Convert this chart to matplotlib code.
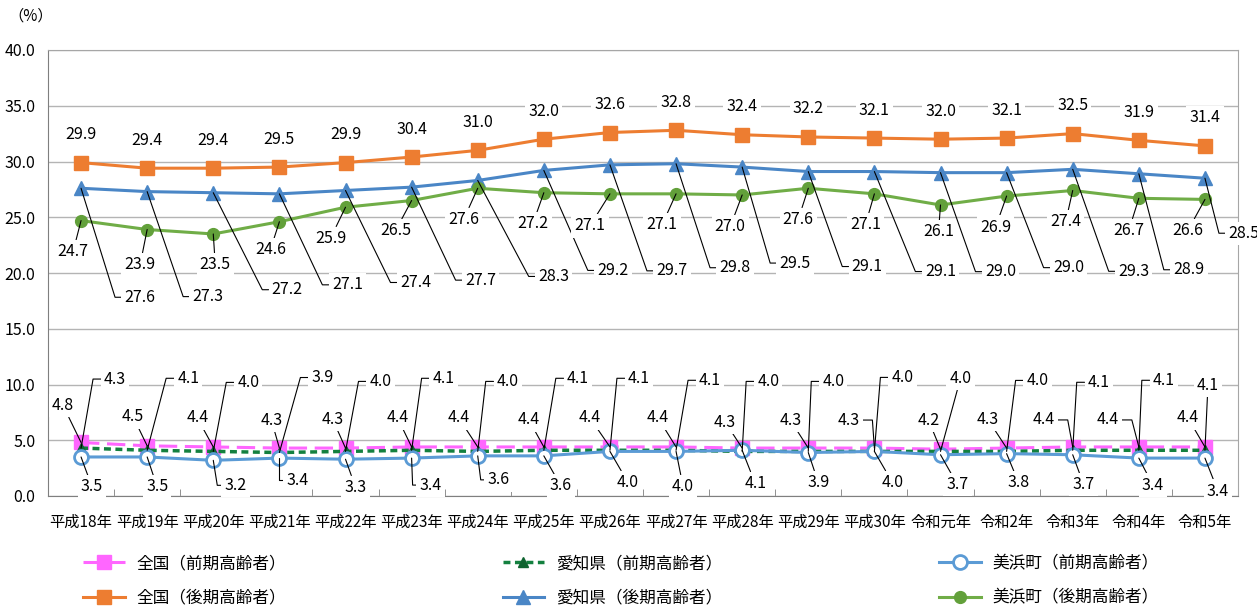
import math
import numpy as np
import matplotlib.pyplot as plt

plt.rcParams['font.family'] = ['Liberation Sans Narrow', 'Noto Sans CJK JP', 'DejaVu Sans']

years = ['平成18年', '平成19年', '平成20年', '平成21年', '平成22年', '平成23年',
         '平成24年', '平成25年', '平成26年', '平成27年', '平成28年', '平成29年',
         '平成30年', '令和元年', '令和2年', '令和3年', '令和4年', '令和5年']

zenkoku_zenki = [4.8, 4.5, 4.4, 4.3, 4.3, 4.4, 4.4, 4.4, 4.4, 4.4, 4.3, 4.3, 4.3, 4.2, 4.3, 4.4, 4.4, 4.4]
aichi_zenki = [4.3, 4.1, 4.0, 3.9, 4.0, 4.1, 4.0, 4.1, 4.1, 4.1, 4.0, 4.0, 4.0, 4.0, 4.0, 4.1, 4.1, 4.1]
mihama_zenki = [3.5, 3.5, 3.2, 3.4, 3.3, 3.4, 3.6, 3.6, 4.0, 4.0, 4.1, 3.9, 4.0, 3.7, 3.8, 3.7, 3.4, 3.4]
zenkoku_kouki = [29.9, 29.4, 29.4, 29.5, 29.9, 30.4, 31.0, 32.0, 32.6, 32.8, 32.4, 32.2, 32.1, 32.0, 32.1, 32.5, 31.9, 31.4]
aichi_kouki = [27.6, 27.3, 27.2, 27.1, 27.4, 27.7, 28.3, 29.2, 29.7, 29.8, 29.5, 29.1, 29.1, 29.0, 29.0, 29.3, 28.9, 28.5]
mihama_kouki = [24.7, 23.9, 23.5, 24.6, 25.9, 26.5, 27.6, 27.2, 27.1, 27.1, 27.0, 27.6, 27.1, 26.1, 26.9, 27.4, 26.7, 26.6]

# label offsets (pixels from the point, y up) as placed in the original chart
off_zenkoku_zenki = [(-18, 37), (-14, 29), (-16, 29), (-8, 28), (-13, 29), (-14, 29), (-19, 29), (-15, 27), (-20, 29),
                     (-18, 29), (-17, 26), (-18, 28), (-26, 28), (-12, 29), (-19, 29), (-29, 27), (-31, 27), (-17, 29)]
off_aichi_zenki = [(34, 69), (41, 72), (35, 69), (43, 75), (35, 70), (32, 72), (30, 70), (34, 72), (29, 72),
                   (34, 70), (26, 70), (25, 70), (28, 74), (20, 73), (31, 71), (26, 68), (25, 70), (3, 65)]
off_mihama_zenki = [(11, -30), (10, -30), (22, -25), (18, -22), (10, -28), (19, -27), (21, -24), (17, -30), (18, -31),
                    (7, -35), (13, -33), (10, -30), (18, -31), (17, -30), (12, -29), (11, -30), (14, -27), (13, -33)]
off_aichi_kouki = [(59, -109), (61, -105), (74, -97), (68, -91), (70, -92), (69, -93), (76, -96), (69, -100), (62, -106),
                   (59, -104), (53, -96), (59, -95), (66, -100), (60, -99), (62, -95), (61, -102), (50, -96), (39, -55)]
off_mihama_kouki = [(-8, -31), (-7, -35), (2, -31), (-9, -28), (-15, -31), (-16, -30), (-14, -31), (-11, -31), (-20, -32),
                    (-14, -31), (-12, -32), (-10, -31), (-9, -31), (-2, -27), (-11, -31), (-7, -31), (-10, -32), (-17, -31)]
elbow_zenkoku_zenki = [12, 15, 16]
elbow_aichi_zenki = [i for i in range(18) if i not in (13, 17)]
elbow_mihama_zenki = [2, 3, 5, 6]

fig = plt.figure(figsize=(12.57, 6.08), dpi=100)
ax = fig.add_axes([48/1257, 112/608, 1190/1257, 446/608])
x = np.arange(len(years))

ax.plot(x, zenkoku_zenki, color='#FF66FF', lw=2.2, dashes=(6, 2.5), marker='s', ms=9.5,
        mfc='#FF66FF', mec='#FF66FF', label='全国（前期高齢者）')
ax.plot(x, aichi_zenki, color='#13803F', lw=2.5, dashes=(2, 1.3), marker='^', ms=6.5,
        mfc='#0F6430', mec='#0F6430', label='愛知県（前期高齢者）')
ax.plot(x, mihama_zenki, color='#5B9BD5', lw=2.2, marker='o', ms=10, mfc='white', mec='#5B9BD5',
        mew=2, label='美浜町（前期高齢者）')
ax.plot(x, zenkoku_kouki, color='#ED7D31', lw=2.2, marker='s', ms=9.5, label='全国（後期高齢者）')
ax.plot(x, aichi_kouki, color='#4A86C6', lw=2.2, marker='^', ms=10, label='愛知県（後期高齢者）')
ax.plot(x, mihama_kouki, color='#70AD47', lw=2.2, marker='o', ms=8.5, mfc='#62A03A', mec='#62A03A',
        label='美浜町（後期高齢者）')

box = dict(boxstyle='square,pad=0.2', fc='white', ec='none')


def put_label(i, v, dx, dy, elbow=False, side=-1, corner=24, leader=True):
    kw = dict(xy=(i, v), xytext=(dx, dy), textcoords='offset pixels', ha='center', va='center',
              fontsize=11.5, bbox=box)
    if leader:
        if elbow:
            cx = dx + side * corner
            ang = math.degrees(math.atan2(dy, cx))
            cs = 'angle,angleA=0,angleB=%.2f,rad=0' % ang
        else:
            cs = 'arc3'
        kw['arrowprops'] = dict(arrowstyle='-', color='black', lw=0.8, shrinkA=0, shrinkB=0,
                                connectionstyle=cs)
    ax.annotate('%.1f' % v, **kw)


for i in range(len(years)):
    put_label(i, zenkoku_kouki[i], 0, 28, leader=False)
    put_label(i, mihama_kouki[i], *off_mihama_kouki[i])
    put_label(i, aichi_kouki[i], *off_aichi_kouki[i], elbow=True, corner=25)
    put_label(i, zenkoku_zenki[i], *off_zenkoku_zenki[i], elbow=i in elbow_zenkoku_zenki, side=1, corner=24)
    put_label(i, aichi_zenki[i], *off_aichi_zenki[i], elbow=i in elbow_aichi_zenki, corner=22)
    put_label(i, mihama_zenki[i], *off_mihama_zenki[i], elbow=i in elbow_mihama_zenki, corner=18)

ax.set_xlim(-0.5, 17.5)
ax.set_ylim(0, 40)
ax.set_xticks(x)
ax.set_xticklabels(years, fontsize=11)
ax.set_xticks(np.arange(0.5, 17, 1), minor=True)
ax.tick_params(axis='x', which='major', length=0, pad=13)
ax.tick_params(axis='x', which='minor', direction='in', length=5, color='#7f7f7f')
ax.set_yticks(np.arange(0, 41, 5))
ax.set_yticklabels(['%.1f' % t for t in np.arange(0, 41, 5)], fontsize=11.5)
ax.tick_params(axis='y', length=0, pad=9)
ax.yaxis.grid(True, color='#b4b4b4', lw=1)
ax.set_axisbelow(True)
for s in ['left', 'bottom']:
    ax.spines[s].set_color('#7f7f7f')
for s in ['top', 'right']:
    ax.spines[s].set_color('#a6a6a6')

fig.text(8/1257, 1 - 16/608, '（%）', fontsize=11, va='center', ha='left',
         family=['Noto Sans CJK JP', 'DejaVu Sans'])

h, l = ax.get_legend_handles_labels()
order = [0, 3, 1, 4, 2, 5]
fig.legend([h[k] for k in order], [l[k] for k in order], ncol=3, loc='upper left',
           bbox_to_anchor=(83/1257, 1 - 555/608), frameon=False, fontsize=12,
           handlelength=2.5, handletextpad=0.7, columnspacing=13.0, labelspacing=1.05,
           borderpad=0, borderaxespad=0)

fig.savefig('out.png', dpi=100)
